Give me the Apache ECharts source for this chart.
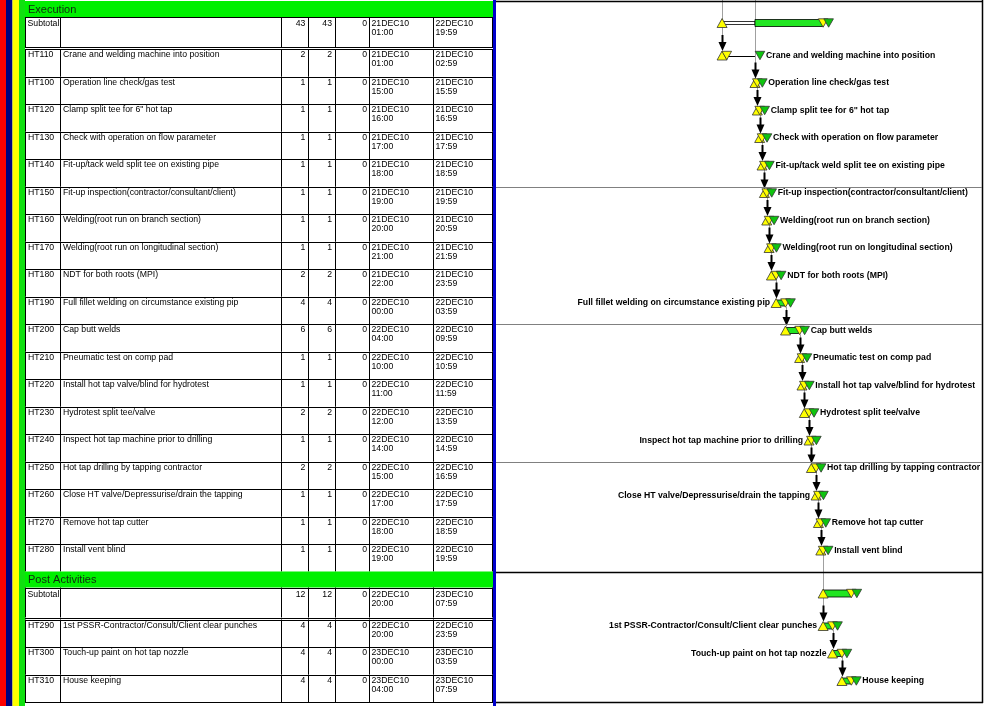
<!DOCTYPE html>
<html><head><meta charset="utf-8">
<script src="https://cdn.jsdelivr.net/npm/echarts@6/dist/echarts.min.js"></script>
<style>html,body{margin:0;padding:0;background:#fff}#c{width:987px;height:706px}</style>
</head><body><div id="c"></div>
<script>
// ---------------- DATA ----------------
const groups = ['Execution', 'Post Activities'];
const groupOrigDur = [43, 12];
const groupRemDur = [43, 12];
const groupFloat = [0, 0];
const groupStart = ['21DEC10 01:00', '22DEC10 20:00'];
const groupFinish = ['22DEC10 19:59', '23DEC10 07:59'];
const groupSolidFrom = ['21DEC10 15:00', '22DEC10 20:00'];

const taskIds = ['HT110','HT100','HT120','HT130','HT140','HT150','HT160','HT170','HT180','HT190',
  'HT200','HT210','HT220','HT230','HT240','HT250','HT260','HT270','HT280','HT290','HT300','HT310'];
const taskGroup = [0,0,0,0,0,0,0,0,0,0,0,0,0,0,0,0,0,0,0,1,1,1];
const taskNames = [
  'Crane and welding machine into position',
  'Operation line check/gas test',
  'Clamp split tee for 6" hot tap',
  'Check with operation on flow parameter',
  'Fit-up/tack weld split tee on existing pipe',
  'Fit-up inspection(contractor/consultant/client)',
  'Welding(root run on branch section)',
  'Welding(root run on longitudinal section)',
  'NDT for both roots (MPI)',
  'Full fillet welding on circumstance existing pip',
  'Cap butt welds',
  'Pneumatic test on comp pad',
  'Install hot tap valve/blind for hydrotest',
  'Hydrotest split tee/valve',
  'Inspect hot tap machine prior to drilling',
  'Hot tap drilling by tapping contractor',
  'Close HT valve/Depressurise/drain the tapping',
  'Remove hot tap cutter',
  'Install vent blind',
  '1st PSSR-Contractor/Consult/Client clear punches',
  'Touch-up paint on hot tap nozzle',
  'House keeping'
];
const origDur = [2,1,1,1,1,1,1,1,2,4,6,1,1,2,1,2,1,1,1,4,4,4];
const remDur  = [2,1,1,1,1,1,1,1,2,4,6,1,1,2,1,2,1,1,1,4,4,4];
const totalFloat = [0,0,0,0,0,0,0,0,0,0,0,0,0,0,0,0,0,0,0,0,0,0];
const startDates = ['21DEC10 01:00','21DEC10 15:00','21DEC10 16:00','21DEC10 17:00','21DEC10 18:00',
  '21DEC10 19:00','21DEC10 20:00','21DEC10 21:00','21DEC10 22:00','22DEC10 00:00','22DEC10 04:00',
  '22DEC10 10:00','22DEC10 11:00','22DEC10 12:00','22DEC10 14:00','22DEC10 15:00','22DEC10 17:00',
  '22DEC10 18:00','22DEC10 19:00','22DEC10 20:00','23DEC10 00:00','23DEC10 04:00'];
const finishDates = ['21DEC10 02:59','21DEC10 15:59','21DEC10 16:59','21DEC10 17:59','21DEC10 18:59',
  '21DEC10 19:59','21DEC10 20:59','21DEC10 21:59','21DEC10 23:59','22DEC10 03:59','22DEC10 09:59',
  '22DEC10 10:59','22DEC10 11:59','22DEC10 13:59','22DEC10 14:59','22DEC10 16:59','22DEC10 17:59',
  '22DEC10 18:59','22DEC10 19:59','22DEC10 23:59','23DEC10 03:59','23DEC10 07:59'];
const lateFinish = ['21DEC10 15:00',null,null,null,null,null,null,null,null,null,null,
  null,null,null,null,null,null,null,null,null,null,null];
const labelSide = ['right','right','right','right','right','right','right','right','right','left',
  'right','right','right','right','left','right','left','right','right','left','left','right'];
const predecessor = [null,null,'HT100','HT120','HT130','HT140','HT150','HT160','HT170','HT180',
  'HT190','HT200','HT210','HT220','HT230','HT240','HT250','HT260','HT270','HT280','HT290','HT300'];

// ---------------- HELPERS ----------------
function hoursOf(s, isFinish) {
  const m = s.match(/^(\d\d)([A-Z]{3})(\d\d) (\d\d):(\d\d)$/);
  let h = (+m[1] - 21) * 24 + (+m[4]) + (+m[5]) / 60;
  if (isFinish) h += 1 / 60;
  return h;
}
function splitDate(s) { return s.replace(' ', '\n'); }

// row layout (structure, not data)
const H_HEADER = 16, H_SUB = 30, GAP = 2, H_TASK = 27.5;
const rows = [];
groups.forEach((g, gi) => {
  rows.push({kind: 'header', g: gi});
  rows.push({kind: 'subtotal', g: gi});
  let k = 0;
  taskIds.forEach((id, ti) => { if (taskGroup[ti] === gi) rows.push({kind: 'task', t: ti, k: k++}); });
});
let yy = 1;
rows.forEach(r => {
  r.top = yy;
  yy += r.kind === 'header' ? H_HEADER : r.kind === 'subtotal' ? H_SUB + GAP : H_TASK;
  r.bottom = yy;
});
const rowOfTask = {};
rows.forEach((r, i) => { if (r.kind === 'task') rowOfTask[taskIds[r.t]] = r; });

const FONT = '8.7px "Liberation Sans", Arial, sans-serif';
const BFONT = 'bold 8.7px "Liberation Sans", Arial, sans-serif';
const COLS = [0, 35, 255.7, 283.3, 310, 344, 408, 468];
const YEL = '#ffff00', GRN = '#0fc40f', BAR = '#22e622', HDR = '#00f000';

function ln(x1, y1, x2, y2, stroke, w) {
  return {type: 'line', shape: {x1, y1, x2, y2}, style: {stroke: stroke || '#000', lineWidth: w || 1}};
}
function txt(x, y, text, opt) {
  return {type: 'text', style: Object.assign({x, y, text, fill: '#000', font: FONT,
    align: 'left', verticalAlign: 'top', lineHeight: 9}, opt || {})};
}

// ---------------- TABLE ----------------
function renderTable(params, api) {
  const r = rows[params.dataIndex];
  const X = v => api.coord([v, 0])[0];
  const Y = v => api.coord([0, v])[1];
  const ch = [];
  const xl = X(0), xr = X(468);
  if (r.kind === 'header') {
    ch.push({type: 'rect', shape: {x: xl, y: Y(r.top), width: xr - xl, height: Y(r.bottom) - Y(r.top)},
      style: {fill: HDR}});
    ch.push(txt(X(3), Y(r.top + 8.5), groups[r.g],
      {font: '11px "Liberation Sans", Arial, sans-serif', verticalAlign: 'middle', fill: '#102810'}));
    return {type: 'group', children: ch};
  }
  const top = Y(r.top);
  const cellBottom = r.kind === 'subtotal' ? Y(r.top + H_SUB) : Y(r.bottom);
  COLS.forEach((c, i) => {
    let x = Math.round(X(c)) + 0.5;
    if (i === COLS.length - 1) x -= 1;
    ch.push(ln(x, top, x, cellBottom));
  });
  if (r.kind === 'subtotal') {
    ch.push(ln(xl, Math.round(top) + 0.5, xr, Math.round(top) + 0.5));
    ch.push(ln(xl, Math.round(cellBottom) + 0.5, xr, Math.round(cellBottom) + 0.5, '#000', 1.2));
    ch.push(ln(xl, Math.round(Y(r.bottom)) + 0.5, xr, Math.round(Y(r.bottom)) + 0.5, '#000', 1.2));
    const ty = Y(r.top + 2.5);
    ch.push(txt(X(2.5), ty, 'Subtotal'));
    ch.push(txt(X(280.3), ty, String(groupOrigDur[r.g]), {align: 'right'}));
    ch.push(txt(X(307), ty, String(groupRemDur[r.g]), {align: 'right'}));
    ch.push(txt(X(342), ty, String(groupFloat[r.g]), {align: 'right'}));
    ch.push(txt(X(346.5), ty, splitDate(groupStart[r.g])));
    ch.push(txt(X(410.5), ty, splitDate(groupFinish[r.g])));
  } else {
    const t = r.t;
    ch.push(ln(xl, Math.round(Y(r.bottom)) + 0.5, xr, Math.round(Y(r.bottom)) + 0.5));
    const ty = Y(r.top + 1.5);
    ch.push(txt(X(3), ty, taskIds[t]));
    ch.push(txt(X(38), ty, taskNames[t]));
    ch.push(txt(X(280.3), ty, String(origDur[t]), {align: 'right'}));
    ch.push(txt(X(307), ty, String(remDur[t]), {align: 'right'}));
    ch.push(txt(X(342), ty, String(totalFloat[t]), {align: 'right'}));
    ch.push(txt(X(346.5), ty, splitDate(startDates[t])));
    ch.push(txt(X(410.5), ty, splitDate(finishDates[t])));
  }
  return {type: 'group', children: ch};
}

// ---------------- GANTT ----------------
function upTri(x, cy, fill) {
  return {type: 'polygon', shape: {points: [[x - 5, cy + 4.5], [x + 5, cy + 4.5], [x, cy - 4.5]]},
    style: {fill: fill, stroke: '#333', lineWidth: 0.8}};
}
function downTri(x, cy, fill) {
  return {type: 'polygon', shape: {points: [[x - 4.8, cy - 4.2], [x + 4.8, cy - 4.2], [x, cy + 4.2]]},
    style: {fill: fill, stroke: '#333', lineWidth: 0.8}};
}
function renderGantt(params, api) {
  const r = rows[params.dataIndex];
  const X = h => api.coord([h, 0])[0];
  const Y = v => api.coord([0, v])[1];
  const xl = X(-95.2), xr = X(111.6);
  const ch = [];
  if (r.kind === 'header') {
    const y = Math.round(Y(r.top)) + 0.5;
    ch.push(ln(xl, y, xr, y, '#000', 1.5));
    return {type: 'group', children: ch};
  }
  if (r.kind === 'subtotal') {
    const s = X(hoursOf(groupStart[r.g])), f = X(hoursOf(groupFinish[r.g], true));
    const m = X(hoursOf(groupSolidFrom[r.g]));
    const cy = Y(r.top + 6);
    if (m > s + 2) ch.push({type: 'rect', shape: {x: s, y: cy - 1.5, width: m - s, height: 3},
      style: {fill: '#fff', stroke: '#000', lineWidth: 0.8}});
    ch.push({type: 'rect', shape: {x: m, y: cy - 3.5, width: f - m, height: 7},
      style: {fill: BAR, stroke: '#000', lineWidth: 0.8}});
    ch.push(upTri(s, cy, YEL));
    ch.push(downTri(f, cy, YEL));
    ch.push(downTri(f + 5.5, cy, GRN));
    return {type: 'group', children: ch};
  }
  const t = r.t;
  const s = X(hoursOf(startDates[t])), f = X(hoursOf(finishDates[t], true));
  const cy = Y(r.top + 6.5);
  ch.push({type: 'rect', shape: {x: s, y: cy - 3, width: Math.max(f - s, 1), height: 6},
    style: {fill: BAR, stroke: '#000', lineWidth: 0.8}});
  let g = f;
  if (lateFinish[t]) {
    g = X(hoursOf(lateFinish[t]));
    ch.push(ln(f, Math.round(cy) + 0.5, g, Math.round(cy) + 0.5, '#000', 1));
  }
  ch.push(upTri(s, cy, YEL));
  ch.push(downTri(f, cy, YEL));
  ch.push(downTri(g + 5, cy, GRN));
  if (labelSide[t] === 'right') {
    ch.push(txt(g + 11, cy, taskNames[t], {font: BFONT, verticalAlign: 'middle'}));
  } else {
    ch.push(txt(s - 6, cy, taskNames[t], {font: BFONT, verticalAlign: 'middle', align: 'right'}));
  }
  if ((r.k + 1) % 5 === 0) {
    const y = Math.round(Y(r.bottom)) + 0.5;
    ch.push(ln(xl, y, xr, y, '#808080', 1));
  }
  return {type: 'group', children: ch};
}

// ---------------- LINKS ----------------
const linkTasks = taskIds.map((id, i) => i);
function renderLink(params, api) {
  const t = linkTasks[params.dataIndex];
  const r = rowOfTask[taskIds[t]];
  const X = h => api.coord([h, 0])[0];
  const Y = v => api.coord([0, v])[1];
  const x = Math.round(X(hoursOf(startDates[t]))) + 0.5;
  const tipY = Y(r.top + 6.5) - 4.5;
  let y1 = Y(0);
  if (predecessor[t]) { const pr = rowOfTask[predecessor[t]]; y1 = Y(pr.top + 6.5) + 4; }
  const ch = [];
  ch.push(ln(x, y1, x, tipY - 8, '#a0a0a0', 1));
  ch.push(ln(x, tipY - 16, x, tipY - 6, '#000', 2));
  ch.push({type: 'polygon', shape: {points: [[x - 4, tipY - 9], [x + 4, tipY - 9], [x, tipY]]},
    style: {fill: '#000'}});
  return {type: 'group', children: ch};
}

// ---------------- CHART ----------------
const chart = echarts.init(document.getElementById('c'), null, {renderer: 'canvas'});
const hiddenAxis = {show: false, axisLine: {show: false}, splitLine: {show: false}};
chart.setOption({
  animation: false,
  backgroundColor: '#fff',
  grid: [
    {left: 25, top: 0, width: 468, height: 706},
    {left: 496, top: 0, width: 486, height: 706}
  ],
  xAxis: [
    Object.assign({type: 'value', gridIndex: 0, min: 0, max: 468}, hiddenAxis),
    Object.assign({type: 'value', gridIndex: 1, min: -95.2, max: 111.6}, hiddenAxis)
  ],
  yAxis: [
    Object.assign({type: 'value', gridIndex: 0, min: 0, max: 706, inverse: true}, hiddenAxis),
    Object.assign({type: 'value', gridIndex: 1, min: 0, max: 706, inverse: true}, hiddenAxis)
  ],
  graphic: [
    {type: 'rect', shape: {x: 0, y: 0, width: 6, height: 706}, style: {fill: '#ff0000'}},
    {type: 'rect', shape: {x: 6, y: 0, width: 6.5, height: 706}, style: {fill: '#000080'}},
    {type: 'rect', shape: {x: 12.5, y: 0, width: 6.5, height: 706}, style: {fill: '#ffff00'}},
    {type: 'rect', shape: {x: 19, y: 0, width: 6, height: 706}, style: {fill: '#10e010'}},
    {type: 'rect', shape: {x: 493, y: 0, width: 3, height: 706}, style: {fill: '#0000cc'}},
    {type: 'line', shape: {x1: 982.5, y1: 0, x2: 982.5, y2: 703}, style: {stroke: '#000', lineWidth: 1.5}},
    {type: 'line', shape: {x1: 496, y1: 702.5, x2: 983, y2: 702.5}, style: {stroke: '#000', lineWidth: 1.5}}
  ],
  series: [
    {type: 'custom', name: 'table', xAxisIndex: 0, yAxisIndex: 0, renderItem: renderTable,
      data: rows.map((r, i) => [0, r.top]), z: 2},
    {type: 'custom', name: 'links', xAxisIndex: 1, yAxisIndex: 1, renderItem: renderLink,
      data: linkTasks.map(t => [hoursOf(startDates[t]), rowOfTask[taskIds[t]].top]), z: 2},
    {type: 'custom', name: 'gantt', xAxisIndex: 1, yAxisIndex: 1, renderItem: renderGantt,
      data: rows.map((r, i) => [0, r.top]), z: 3}
  ]
});
</script></body></html>
